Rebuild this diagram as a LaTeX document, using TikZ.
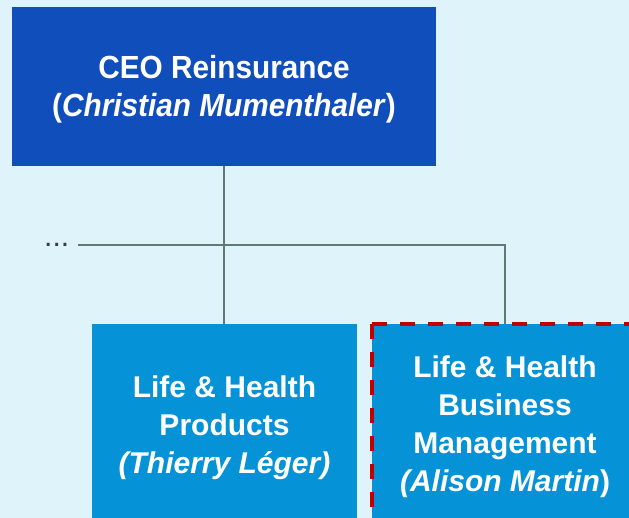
\documentclass[tikz,border=0pt]{standalone}
\usepackage{fontspec}
\setmainfont{Liberation Sans}
\newfontfamily\condfont[FakeStretch=0.93]{Liberation Sans}
\definecolor{bg}{HTML}{DFF3FA}
\definecolor{ceoblue}{HTML}{104EBC}
\definecolor{unitblue}{HTML}{0592D6}
\definecolor{conncol}{HTML}{5B7B73}
\definecolor{dashred}{HTML}{C00000}
\definecolor{dotcol}{HTML}{2F3F3F}
\tikzset{
  conn/.style={draw=conncol, line width=1.8pt},
  ceobox/.style={rectangle, fill=ceoblue, text=white, minimum width=424pt, minimum height=159pt, inner sep=0pt, align=center, font=\condfont\bfseries\fontsize{32}{38}\selectfont},
  unitbox/.style={rectangle, fill=unitblue, text=white, minimum width=265pt, minimum height=222pt, inner sep=0pt, align=center, font=\bfseries\fontsize{30}{38}\selectfont},
  boxtext/.style={inner sep=0pt, align=center, text=white, font=\bfseries\fontsize{30}{38}\selectfont},
  highlight/.style={draw=dashred, line width=3.6pt, dash pattern=on 15pt off 13pt},
}
\begin{document}
\begin{tikzpicture}[x=1pt,y=-1pt]
  \fill[bg] (0,0) rectangle (629,518);
  \useasboundingbox (0,0) rectangle (629,518);
  \clip (0,0) rectangle (629,518);
  % boxes
  \node[ceobox] (ceo) at (224,86.5) {};
  \node[unitbox] (lhp) at (224.5,435) {};
  \node[unitbox, minimum width=266pt] (lhbm) at (505,435) {};
  % connectors
  \coordinate (hl) at (78,245);
  \draw[conn] (ceo.south) -- (ceo.south |- lhp.north);
  \draw[conn] (hl) -- (hl -| lhbm.north) -- (lhbm.north);
  \draw[highlight] (lhbm.north west) -- (lhbm.north east);
  \draw[highlight] (lhbm.north west) -- (lhbm.south west);
  % texts
  \node[boxtext, font=\condfont\bfseries\fontsize{32}{38}\selectfont] (ceot) at ([yshift=-3pt]ceo.center) {CEO Reinsurance\\(\textit{Christian Mumenthaler})};
  \node[boxtext] (lhpt) at ([yshift=7pt]lhp.center) {Life \& Health\\Products\\\textit{(Thierry Léger)}};
  \node[boxtext] (lhbmt) at ([yshift=8pt]lhbm.center) {Life \& Health\\Business\\Management\\\textit{(Alison Martin})};
  \node[anchor=base west, inner sep=0pt, text=dotcol, font=\fontsize{30}{36}\selectfont] (dots) at (44,247) {...};
\end{tikzpicture}
\end{document}
